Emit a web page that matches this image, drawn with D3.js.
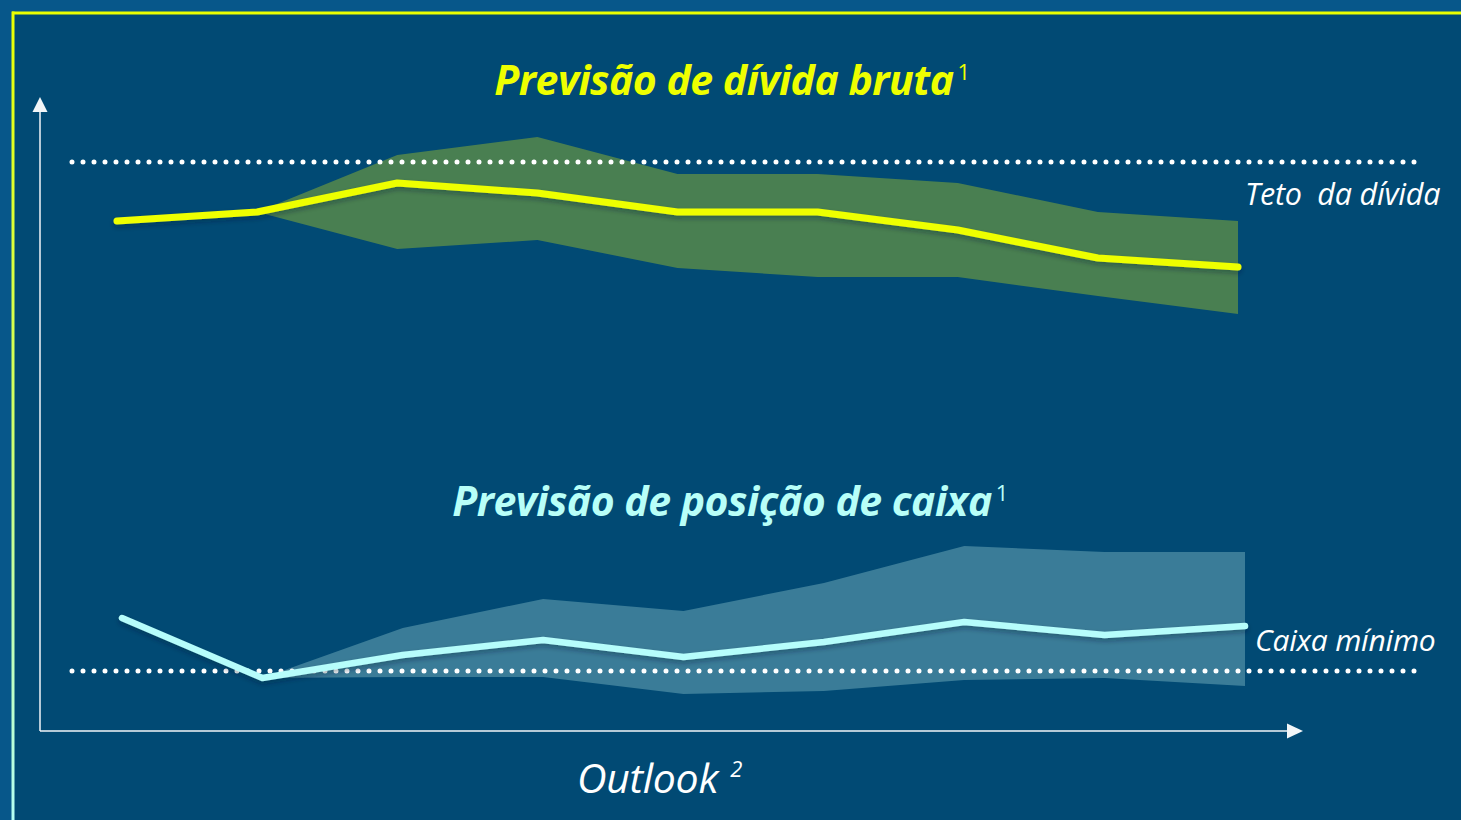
<!DOCTYPE html>
<html>
<head>
<meta charset="utf-8">
<script src="https://cdn.jsdelivr.net/npm/d3@7"></script>
<style>
  html, body { margin: 0; padding: 0; background: #014a74; overflow: hidden; }
  svg { display: block; }
  text { font-family: "Open Sans", "Noto Sans", sans-serif; font-style: italic; }
</style>
</head>
<body>
<div id="chart"></div>
<script>
// periods on the outlook axis (unlabelled in the original)
const periods = [0, 1, 2, 3, 4, 5, 6, 7, 8];

// gross debt forecast (index units) and its uncertainty band, band starts at period 1
const debtForecast = [510, 519, 548, 538, 519, 519, 501, 473, 464];
const debtUpper = [null, 519, 576, 594, 557, 557, 548, 519, 510];
const debtLower = [null, 519, 482, 491, 463, 454, 454, 435, 417];
const debtCeiling = 569;

// cash position forecast and its band
const cashForecast = [113, 53, 76, 91, 74, 89, 109, 96, 105];
const cashUpper = [null, 53, 103, 132, 120, 148, 185, 179, 179];
const cashLower = [null, 53, 54, 54, 37, 40, 51, 53, 45];
const cashMinimum = 60;

const titles = ["Previsão de dívida bruta", "Previsão de posição de caixa"];
const refLabels = ["Teto  da dívida", "Caixa mínimo"];
const xLabel = "Outlook";

const width = 1461, height = 820;

const svg = d3.select('#chart')
    .append('svg')
    .attr('width', width)
    .attr('height', height);

const defs = svg.append('defs');

const borderGrad = defs.append('linearGradient')
    .attr('id', 'borderGrad')
    .attr('x1', 0).attr('y1', 0).attr('x2', 0).attr('y2', 1);
borderGrad.append('stop').attr('offset', '0%').attr('stop-color', '#eaff00');
borderGrad.append('stop').attr('offset', '45%').attr('stop-color', '#d4ff5a');
borderGrad.append('stop').attr('offset', '100%').attr('stop-color', '#b4fff4');

const shadow = defs.append('filter')
    .attr('id', 'shadow')
    .attr('x', '-5%').attr('y', '-50%').attr('width', '110%').attr('height', '200%');
shadow.append('feDropShadow')
    .attr('dx', 0).attr('dy', 3)
    .attr('stdDeviation', 2.5)
    .attr('flood-color', '#001a30')
    .attr('flood-opacity', 0.35);

// background + frame
svg.append('rect')
    .attr('width', width).attr('height', height)
    .attr('fill', '#07578a');
svg.append('rect')
    .attr('x', 14).attr('y', 14)
    .attr('width', width - 14).attr('height', height - 14)
    .attr('fill', '#014a74');
svg.append('line')
    .attr('x1', 12).attr('x2', width)
    .attr('y1', 13).attr('y2', 13)
    .attr('stroke', '#eaff00')
    .attr('stroke-width', 3);
svg.append('rect')
    .attr('x', 11.5).attr('y', 11.5)
    .attr('width', 3).attr('height', height - 11.5)
    .attr('fill', 'url(#borderGrad)');

// scales
const y = d3.scaleLinear().domain([0, 634]).range([731, 97]);
const xDebt = d3.scaleLinear().domain([0, 8]).range([117, 1238]);
const xCash = d3.scaleLinear().domain([0, 8]).range([122, 1245]);
const xRef = d3.scaleLinear().domain([0, 1]).range([72, 1419]);

const axisColor = '#f2f6f8';

// axes as plain arrows
svg.append('line')
    .attr('x1', 40).attr('x2', 40)
    .attr('y1', y(0)).attr('y2', y(634) + 14)
    .attr('stroke', axisColor).attr('stroke-width', 1.5);
svg.append('path')
    .attr('d', d3.line()([[40, y(634)], [32.5, y(634) + 15], [47.5, y(634) + 15]]) + 'Z')
    .attr('fill', axisColor);
svg.append('line')
    .attr('x1', 40).attr('x2', 1289)
    .attr('y1', y(0)).attr('y2', y(0))
    .attr('stroke', axisColor).attr('stroke-width', 1.5);
svg.append('path')
    .attr('d', d3.line()([[1303, y(0)], [1287, y(0) - 7.5], [1287, y(0) + 7.5]]) + 'Z')
    .attr('fill', axisColor);

function drawSeries(x, mid, upper, lower, bandColor, lineColor, lineWidth) {
    const bandData = periods.filter(i => upper[i] != null);
    const area = d3.area()
        .x(i => x(i))
        .y0(i => y(lower[i]))
        .y1(i => y(upper[i]));
    svg.append('path')
        .datum(bandData)
        .attr('d', area)
        .attr('fill', bandColor);
}

function drawLine(x, mid, lineColor, lineWidth) {
    const line = d3.line()
        .x(i => x(i))
        .y(i => y(mid[i]));
    svg.append('path')
        .datum(periods)
        .attr('d', line)
        .attr('fill', 'none')
        .attr('stroke', lineColor)
        .attr('stroke-width', lineWidth)
        .attr('stroke-linecap', 'round')
        .attr('stroke-linejoin', 'round')
        .attr('filter', 'url(#shadow)');
}

drawSeries(xDebt, debtForecast, debtUpper, debtLower, '#497f51');
drawSeries(xCash, cashForecast, cashUpper, cashLower, '#3a7c98');

// reference dotted lines, over the bands
[debtCeiling, cashMinimum].forEach(v => {
    svg.append('line')
        .attr('x1', xRef(0)).attr('x2', xRef(1))
        .attr('y1', y(v)).attr('y2', y(v))
        .attr('stroke', '#ffffff')
        .attr('stroke-width', 5)
        .attr('stroke-linecap', 'round')
        .attr('stroke-dasharray', '0 11');
});

drawLine(xDebt, debtForecast, '#eeff00', 7);
drawLine(xCash, cashForecast, '#b6fdfb', 6.5);

// titles
function title(txt, cx, by, color) {
    const t = svg.append('text')
        .attr('x', cx).attr('y', by)
        .attr('text-anchor', 'middle')
        .attr('fill', color)
        .style('font-weight', 700)
        .style('font-size', '41px')
        .style('letter-spacing', '-0.5px');
    t.append('tspan').text(txt);
    t.append('tspan')
        .attr('dy', -15)
        .attr('dx', 4)
        .style('font-size', '22px')
        .style('font-weight', 400)
        .style('font-style', 'normal')
        .text('1');
}
title(titles[0], 732, 95, '#eeff00');
title(titles[1], 730, 516, '#b8fff8');

// reference labels
svg.append('text')
    .attr('x', 1245).attr('y', 205)
    .attr('fill', '#ffffff')
    .style('font-size', '30.5px')
    .style('letter-spacing', '-0.2px')
    .attr('xml:space', 'preserve')
    .text(refLabels[0]);
svg.append('text')
    .attr('x', 1255).attr('y', 651)
    .attr('fill', '#ffffff')
    .style('font-size', '30px')
    .style('letter-spacing', '-0.2px')
    .text(refLabels[1]);

// x label
const xl = svg.append('text')
    .attr('x', 577).attr('y', 793)
    .attr('fill', '#ffffff')
    .style('font-size', '41px')
    .style('letter-spacing', '-0.3px');
xl.append('tspan').text(xLabel);
xl.append('tspan')
    .attr('dx', 12).attr('dy', -16)
    .style('font-size', '22px')
    .text('2');
</script>
</body>
</html>
